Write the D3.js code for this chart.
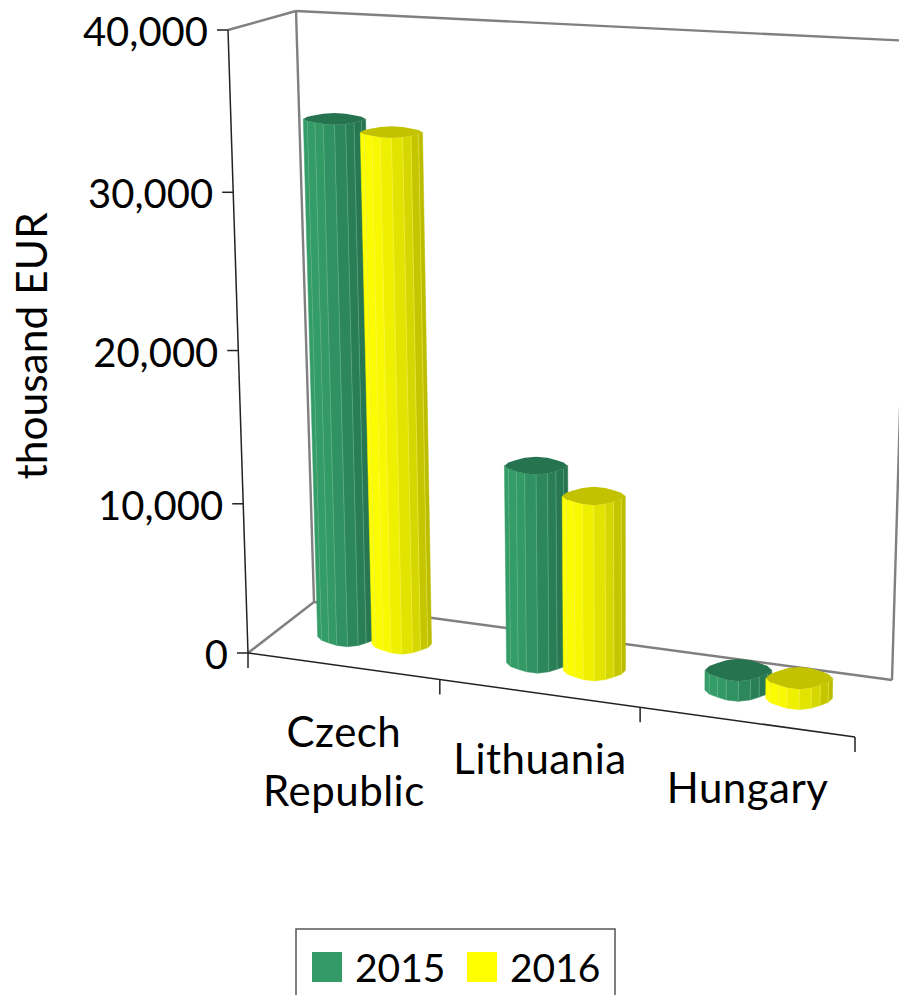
<!DOCTYPE html>
<html>
<head>
<meta charset="utf-8">
<script src="https://cdnjs.cloudflare.com/ajax/libs/d3/7.8.5/d3.min.js"></script>
<style>
  html, body { margin: 0; padding: 0; background: #fff; overflow: hidden; }
  text { font-family: Lato, "Open Sans", sans-serif; fill: #000; }
</style>
</head>
<body>
<div id="chart"></div>
<script>
const categories = ['Czech Republic', 'Lithuania', 'Hungary'];
const seriesNames = ['2015', '2016'];
const values2015 = [34050, 13000, 1290];
const values2016 = [33450, 11450, 1300];
const yTicks = [0, 10000, 20000, 30000, 40000];
const seriesColors = ['#339966', '#ffff00'];

const width = 899, height = 995;

// corners of the 3d box as they land on screen, [x, y]
const floor = {fl: [248, 653], fr: [855, 737], bl: [314, 602], br: [892, 680]};
const top3d = {fl: [228, 30], fr: [862, 62], bl: [296, 11], br: [911, 41]};

// the box is in perspective so ticks are not evenly spaced
const uScale = d3.scaleLinear().domain([0, 1, 2, 3]).range([0, 0.316, 0.646, 1]);
const tScale = d3.scaleLinear().domain(yTicks).range([0, 0.2395, 0.4855, 0.7395, 1]);

const lerp = (a, b, f) => a + (b - a) * f;
const lerp2 = (a, b, f) => [lerp(a[0], b[0], f), lerp(a[1], b[1], f)];

function project(u, w, value) {
  const f = uScale(u), t = tScale(value);
  const low = lerp2(lerp2(floor.fl, floor.fr, f), lerp2(floor.bl, floor.br, f), w);
  const high = lerp2(lerp2(top3d.fl, top3d.fr, f), lerp2(top3d.bl, top3d.br, f), w);
  return lerp2(low, high, t);
}

const svg = d3.select('#chart').append('svg')
  .attr('width', width)
  .attr('height', height)
  .style('display', 'block');

//  walls
const wallLines = [
  [top3d.fl, top3d.bl],
  [top3d.bl, top3d.br],
  [top3d.bl, floor.bl],
  [floor.fl, floor.bl],
  [floor.bl, floor.br],
  [floor.br, top3d.br]
];
svg.append('g').selectAll('line')
  .data(wallLines)
  .join('line')
  .attr('x1', d => d[0][0]).attr('y1', d => d[0][1])
  .attr('x2', d => d[1][0]).attr('y2', d => d[1][1])
  .attr('stroke', '#808080')
  .attr('stroke-width', 2.4);

// value axis, ticks pushed along the slanted edge afterwards
const yPx = d3.scaleLinear().domain([0, 40000]).range([653, 31]);
const axisY = svg.append('g')
  .call(d3.axisLeft(yPx).tickValues(yTicks).tickSize(11).tickPadding(9).tickFormat(d3.format(',')));
axisY.select('.domain').remove();
axisY.selectAll('.tick')
  .attr('transform', d => `translate(${project(0, 0, d)})`);
axisY.selectAll('.tick line').attr('stroke', '#222').attr('stroke-width', 1.5);
axisY.selectAll('.tick text')
  .attr('dy', '0.4em')
  .style('font-size', '40px')
  .style('font-family', 'Lato, "Open Sans", sans-serif')
  .attr('fill', '#000');

svg.append('line')
  .attr('x1', top3d.fl[0]).attr('y1', top3d.fl[1])
  .attr('x2', floor.fl[0]).attr('y2', floor.fl[1])
  .attr('stroke', '#222').attr('stroke-width', 1.5);

// category axis along the front floor edge
svg.append('line')
  .attr('x1', floor.fl[0]).attr('y1', floor.fl[1])
  .attr('x2', floor.fr[0]).attr('y2', floor.fr[1])
  .attr('stroke', '#222').attr('stroke-width', 1.5);

svg.append('g').selectAll('line')
  .data(d3.range(categories.length + 1))
  .join('line')
  .attr('x1', d => project(d, 0, 0)[0])
  .attr('y1', d => project(d, 0, 0)[1])
  .attr('x2', d => project(d, 0, 0)[0])
  .attr('y2', d => project(d, 0, 0)[1] + 15)
  .attr('stroke', '#222')
  .attr('stroke-width', 1.5);

const catLabels = svg.append('g').selectAll('text')
  .data(categories)
  .join('text')
  .attr('text-anchor', 'middle')
  .style('font-size', '42px')
  .style('letter-spacing', '0.5px')
  .attr('transform', (d, i) => {
    const p = project(i + 0.5, 0, 0);
    return `translate(${p[0]}, ${p[1] + 81})`;
  });
catLabels.selectAll('tspan')
  .data(d => d.split(' '))
  .join('tspan')
  .attr('x', 0)
  .attr('dy', (d, i) => i ? 59 : 0)
  .text(d => d);

// columns, far ones first
const columns = [];
categories.forEach((c, i) => {
  [values2015, values2016].forEach((vals, s) => {
    columns.push({category: i, series: s, value: vals[i]});
  });
});

const seriesOffset = d3.scalePoint().domain([0, 1]).range([0.355, 0.645]);
const radiusU = 0.15;
const nFacets = 16;
const angles = d3.range(nFacets + 1).map(i => i * 2 * Math.PI / nFacets);

//  rims get flatter the higher up the view goes
const flatten = value => 0.34 - 0.18 * tScale(value);

//  lumpy rim, the original column is a coarse polygon
function rim(center, rx, squash, theta) {
  const r = 1 + 0.06 * Math.cos(theta * 4);
  return [center[0] + rx * r * Math.cos(theta), center[1] + rx * squash * r * Math.sin(theta)];
}

const shade = [
  d3.scaleLinear().domain([-1, -0.45, 0.45, 1]).range(['#349d68', '#339966', '#2a8058', '#257350']),
  d3.scaleLinear().domain([-1, -0.45, 0.45, 1]).range(['#ffff00', '#f6f600', '#dcdc00', '#bcbc00'])
];
const topFill = ['#267350', '#c2c200'];
const edgeColor = ['#7cc09c', '#f5f56a'];

const colG = svg.append('g').selectAll('g')
  .data(columns)
  .join('g');

colG.each(function (col) {
  const g = d3.select(this);
  const u = col.category + seriesOffset(col.series);
  const base = project(u, 0.5, 0);
  const head = project(u, 0.5, col.value);
  const rxBase = project(u + radiusU, 0.5, 0)[0] - base[0];
  const rxHead = project(u + radiusU, 0.5, col.value)[0] - head[0];
  const sqHead = flatten(col.value);
  const sqBase = flatten(0);

  const facets = d3.range(nFacets).map(i => {
    const a = angles[i], b = angles[i + 1];
    return {
      mid: (a + b) / 2,
      points: [rim(base, rxBase, sqBase, a), rim(base, rxBase, sqBase, b), rim(head, rxHead, sqHead, b), rim(head, rxHead, sqHead, a)]
    };
  }).filter(f => Math.sin(f.mid) > -0.1);

  g.selectAll('polygon.facet')
    .data(facets)
    .join('polygon')
    .attr('class', 'facet')
    .attr('points', d => d.points.join(' '))
    .attr('fill', d => shade[col.series](Math.cos(d.mid)))
    .attr('stroke', d => shade[col.series](Math.cos(d.mid)))
    .attr('stroke-width', 0.5);

  g.selectAll('line.edge')
    .data(facets.slice(1))
    .join('line')
    .attr('class', 'edge')
    .attr('x1', d => d.points[0][0]).attr('y1', d => d.points[0][1])
    .attr('x2', d => d.points[3][0]).attr('y2', d => d.points[3][1])
    .attr('stroke', edgeColor[col.series])
    .attr('stroke-width', 0.7)
    .attr('opacity', 0.65);

  g.append('polygon')
    .attr('points', angles.slice(1).map(a => rim(head, rxHead, sqHead, a)).join(' '))
    .attr('fill', topFill[col.series]);
});

// axis title
svg.append('text')
  .attr('transform', 'translate(47, 346) rotate(-90)')
  .attr('text-anchor', 'middle')
  .style('font-size', '42.5px')
  .text('thousand EUR');

// legend runs off the bottom of the picture
svg.append('rect')
  .attr('x', 296).attr('y', 929)
  .attr('width', 319).attr('height', 90)
  .attr('fill', '#fff')
  .attr('stroke', '#555')
  .attr('stroke-width', 1.5);

const legendX = d3.scalePoint().domain(seriesNames).range([312, 467]);
const legend = svg.append('g').selectAll('g')
  .data(seriesNames)
  .join('g')
  .attr('transform', d => `translate(${legendX(d)}, 952)`);
legend.append('rect')
  .attr('width', 30).attr('height', 30)
  .attr('fill', (d, i) => seriesColors[i]);
legend.append('text')
  .attr('x', 43).attr('y', 30)
  .style('font-size', '39px')
  .text(d => d);
</script>
</body>
</html>
